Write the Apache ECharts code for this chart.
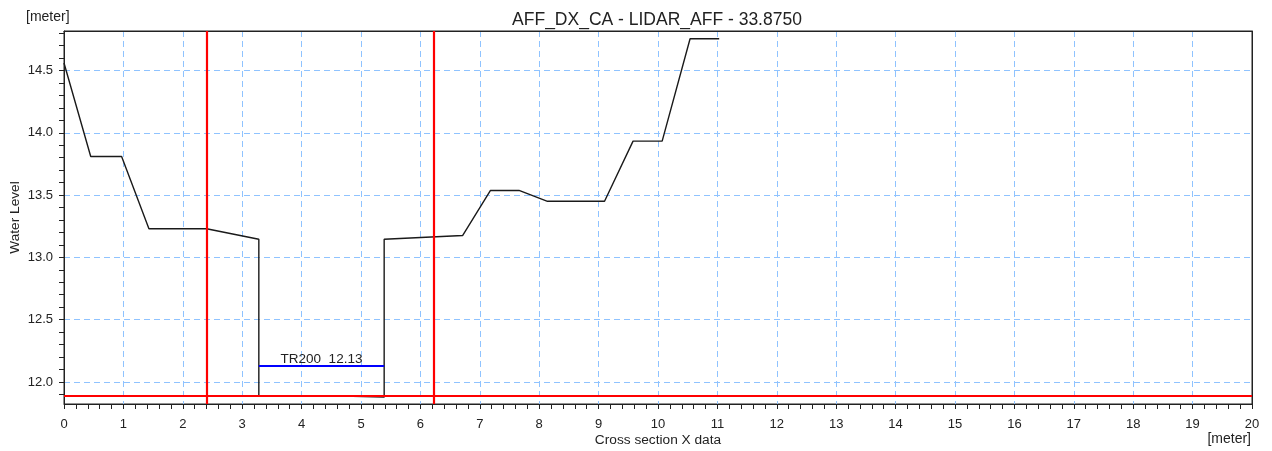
<!DOCTYPE html>
<html>
<head>
<meta charset="utf-8">
<script src="https://cdn.jsdelivr.net/npm/echarts@6/dist/echarts.min.js"></script>
<style>
html,body{margin:0;padding:0;background:#fff;}
#chart{width:1272px;height:451px;}
</style>
</head>
<body>
<div id="chart"></div>
<script>
// ---- data ----
const titleText = 'AFF_DX_CA - LIDAR_AFF - 33.8750';
const profileX = [0, 0.45, 0.97, 1.43, 2.40, 3.28, 3.28, 4.33, 4.34, 5.39, 5.39, 6.71, 7.18, 7.66, 8.14, 9.10, 9.58, 10.07, 10.54, 11.03];
const profileY = [14.56, 13.81, 13.81, 13.23, 13.23, 13.145, 11.89, 11.89, 11.878, 11.878, 13.145, 13.175, 13.537, 13.537, 13.45, 13.45, 13.933, 13.933, 14.755, 14.755];
const redVerticalX = [2.40, 6.22];
const redHorizontalY = [11.89];
const tr200Start = 3.28, tr200End = 5.39, tr200Level = 12.13;
const tr200Label = 'TR200  12.13';
const xMin = 0, xMax = 20;
const yMin = 11.823, yMax = 14.817;
const yLabelValues = [12.0, 12.5, 13.0, 13.5, 14.0, 14.5];
const yTickValues = [];
for (let i = 119; i <= 148; i++) yTickValues.push(i / 10);

const FONT = 'Liberation Sans, Arial, sans-serif';
const TXT = '#222';
const dash = () => ({color: '#8fc3ff', type: [6, 4], width: 1, opacity: 1});

const chart = echarts.init(document.getElementById('chart'));
chart.setOption({
  animation: false,
  textStyle: {fontFamily: FONT},
  title: {
    text: titleText, left: 652, top: 6, textAlign: 'center',
    textStyle: {fontSize: 17.5, fontWeight: 'normal', color: TXT, fontFamily: FONT}
  },
  grid: {left: 64, right: 20, top: 31, bottom: 47, show: true, borderColor: '#222', borderWidth: 1,
         backgroundColor: 'transparent', outerBoundsMode: 'none', containLabel: false},
  xAxis: [{
    type: 'value', min: xMin, max: xMax, interval: 1,
    name: 'Cross section X data', nameLocation: 'middle', nameGap: 29, nameMoveOverlap: false,
    nameTextStyle: {fontSize: 13.7, color: TXT, fontFamily: FONT},
    axisLine: {show: true, lineStyle: {color: '#222', width: 1}},
    axisTick: {show: true, length: 5, lineStyle: {color: '#222'}},
    minorTick: {show: true, splitNumber: 5, length: 5, lineStyle: {color: '#222'}},
    axisLabel: {fontSize: 13, color: TXT, margin: 14, fontFamily: FONT},
    splitLine: {show: true, showMinLine: false, showMaxLine: false, lineStyle: dash()}
  }, {
    type: 'value', min: xMin, max: xMax, position: 'top',
    axisLine: {show: true, onZero: false, lineStyle: {color: '#222', width: 1}},
    axisTick: {show: false}, axisLabel: {show: false}, splitLine: {show: false}
  }],
  yAxis: [{
    type: 'value', min: yMin, max: yMax, splitNumber: 6,
    name: 'Water Level', nameLocation: 'middle', nameGap: 42, nameMoveOverlap: false,
    nameTextStyle: {fontSize: 13.7, color: TXT, fontFamily: FONT},
    axisLine: {show: true, onZero: false, lineStyle: {color: '#222', width: 1}},
    axisTick: {show: false},
    axisLabel: {fontSize: 13, color: TXT, margin: 11, fontFamily: FONT, customValues: yLabelValues,
      formatter: v => v.toFixed(1)},
    splitLine: {show: true, showMinLine: false, showMaxLine: false, lineStyle: dash()}
  }, {
    type: 'value', min: yMin, max: yMax, position: 'left',
    axisLine: {show: false},
    axisTick: {show: true, length: 5, customValues: yTickValues, lineStyle: {color: '#222'}},
    axisLabel: {show: false},
    splitLine: {show: false}
  }, {
    type: 'value', min: yMin, max: yMax, position: 'right',
    axisLine: {show: true, onZero: false, lineStyle: {color: '#222', width: 1}},
    axisTick: {show: false}, axisLabel: {show: false}, splitLine: {show: false}
  }],
  graphic: [
    {type: 'text', left: 26, top: 10, style: {text: '[meter]', fontSize: 14, fill: TXT, fontFamily: FONT}},
    {type: 'text', right: 21, top: 432, style: {text: '[meter]', fontSize: 14, fill: TXT, fontFamily: FONT}}
  ],
  series: [
    {
      type: 'line', name: 'profile', yAxisIndex: 0,
      data: profileX.map((x, i) => [x, profileY[i]]),
      showSymbol: false, symbol: 'none',
      lineStyle: {color: '#1a1a1a', width: 1.4},
      z: 3
    },
    {
      type: 'line', name: 'markers', yAxisIndex: 0, data: [],
      markLine: {
        silent: true, symbol: 'none', animation: false,
        label: {show: false},
        lineStyle: {color: '#ff0000', width: 2.2, type: 'solid'},
        data: redVerticalX.map(x => ({xAxis: x})).concat(redHorizontalY.map(y => ({yAxis: y})))
      },
      z: 4
    },
    {
      type: 'line', name: 'TR200', yAxisIndex: 0, data: [],
      markLine: {
        silent: true, symbol: 'none', animation: false,
        lineStyle: {color: '#0000ff', width: 2, type: 'solid'},
        label: {show: true, position: 'insideMiddleTop', formatter: tr200Label, fontSize: 13.5, color: TXT, fontFamily: FONT, distance: -1},
        data: [[{coord: [tr200Start, tr200Level]}, {coord: [tr200End, tr200Level]}]]
      },
      z: 5
    }
  ]
});
</script>
</body>
</html>
